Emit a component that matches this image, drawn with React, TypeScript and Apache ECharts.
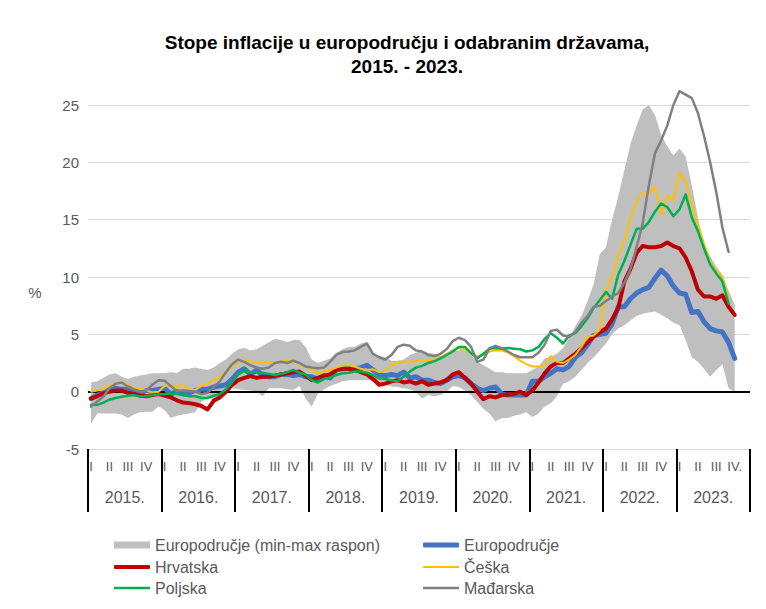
import React, { useEffect, useRef } from 'react';
import * as echarts from 'echarts';

const years = ['2015.', '2016.', '2017.', '2018.', '2019.', '2020.', '2021.', '2022.', '2023.'];
const quarterNames = ['I', 'II', 'III', 'IV'];
const lastQuarterLabel = 'IV.';
const yTicks = { min: -5, max: 25, step: 5 };

const bandMin = [
  -2.8, -1.9, -1.9, -1.9, -1.9, -2.0, -2.3, -2.0, -1.8, -1.75, -1.75, -1.3,
  -1.6, -2.3, -2.1, -2.0, -1.9, -1.8, -0.9, -0.5, -0.7, -0.7, -0.2, 0.3,
  0.2, 0.15, 0.1, 0.0, -0.4, 0.3, 0.3, 0.3, 0.2, 0.15, 0.5, -0.6,
  -1.3, -0.2, 0.2, 0.5, 0.7, 0.9, 1.0, 1.0, 1.0, 1.0, 1.0, 0.8,
  0.6, 0.45, 0.4, 0.3, 0.2, 0.0, -0.6, -0.3, -0.4, -0.3, 0.0, 0.5,
  0.4, 0.1, -0.3, -0.9, -1.5, -1.9, -2.6, -2.3, -2.3, -2.1, -2.0, -1.8,
  -2.2, -1.9, -1.3, -1.0, -0.4, 0.7, 0.9, 1.3, 1.9, 2.5, 3.0, 3.6,
  4.2, 5.0, 5.5, 5.8, 6.2, 6.6, 6.8, 6.9, 7.0, 6.7, 6.4, 6.0,
  5.8, 4.5, 3.0, 2.6, 2.0, 1.3, 1.9, 2.4, 0.3, 0.0,
];
const bandMax = [
  0.8, 0.9, 1.2, 1.5, 1.6, 1.3, 1.1, 1.3, 1.4, 1.5, 1.6, 1.6,
  1.6, 1.7, 1.6, 2.0, 2.0, 2.1, 2.0, 1.9, 2.1, 2.5, 2.8, 3.3,
  3.7, 3.8, 3.6, 3.7, 4.0, 4.3, 4.6, 4.5, 4.3, 4.5, 4.5, 3.9,
  2.8, 2.5, 2.7, 2.9, 3.4, 3.7, 3.9, 3.9, 4.2, 4.3, 3.4, 3.1,
  3.0, 2.7, 2.7, 2.8, 3.2, 3.4, 3.6, 3.4, 3.3, 3.1, 3.1, 3.5,
  3.6, 3.8, 3.2, 2.6, 2.3, 2.0, 1.7, 1.7, 1.6, 1.6, 1.6, 1.6,
  1.9, 2.2, 2.9, 3.05, 3.3, 3.8, 4.7, 5.7, 6.6, 7.9, 9.4, 12.0,
  12.6, 15.0, 17.0, 19.3, 21.6, 23.2, 24.6, 25.0, 24.1, 22.4, 21.4, 20.6,
  21.2, 20.5, 18.0, 15.2, 12.9, 11.8, 10.9, 10.2, 8.8, 7.6,
];
const euroArea = [
  -0.6, -0.3, -0.1, 0.2, 0.3, 0.2, 0.2, 0.1, -0.1, 0.1, 0.1, 0.2,
  0.3, -0.2, 0.0, -0.2, -0.1, 0.1, 0.2, 0.2, 0.4, 0.5, 0.6, 1.1,
  1.7, 2.0, 1.5, 1.9, 1.4, 1.3, 1.3, 1.5, 1.5, 1.4, 1.5, 1.3,
  1.3, 1.1, 1.4, 1.2, 1.9, 2.0, 2.1, 2.0, 2.1, 2.3, 1.9, 1.5,
  1.4, 1.5, 1.4, 1.7, 1.2, 1.3, 1.0, 1.0, 0.8, 0.7, 1.0, 1.3,
  1.4, 1.2, 0.7, 0.3, 0.1, 0.3, 0.4, -0.2, -0.3, -0.3, -0.3, -0.3,
  0.9, 0.9, 1.3, 1.6, 2.0, 1.9, 2.2, 3.0, 3.4, 4.1, 4.9, 5.0,
  5.1, 5.9, 7.4, 7.4, 8.1, 8.6, 8.9, 9.1, 9.9, 10.6, 10.1, 9.2,
  8.6, 8.5, 6.9, 7.0, 6.1, 5.5, 5.3, 5.2, 4.3, 2.9,
];
const croatia = [
  -0.6, -0.4, -0.15, 0.0, 0.1, 0.1, -0.1, -0.2, -0.35, -0.4, -0.3, -0.2,
  -0.35, -0.5, -0.75, -0.95, -1.0, -1.1, -1.25, -1.55, -0.8, -0.5, 0.0, 0.6,
  1.0, 1.2, 1.35, 1.2, 1.3, 1.3, 1.4, 1.5, 1.6, 1.7, 1.75, 1.4,
  1.0, 1.2, 1.4, 1.5, 1.9, 2.0, 2.0, 1.9, 1.7, 1.5, 1.1, 0.6,
  0.7, 0.9, 1.0, 0.8, 0.9, 0.7, 0.9, 0.6, 0.7, 0.8, 1.0, 1.5,
  1.7, 1.2, 0.7, 0.0, -0.65, -0.4, -0.5, -0.3, -0.25, -0.2, 0.0, -0.3,
  0.1, 0.8, 1.6, 2.2, 2.5, 2.5, 2.9, 3.3, 3.8, 4.3, 4.8, 5.2,
  5.5, 6.3, 7.3, 9.6, 10.7, 12.1, 12.7, 12.6, 12.6, 12.7, 13.0, 12.7,
  12.5, 11.7, 10.5, 8.9, 8.3, 8.3, 8.1, 8.4, 7.4, 6.7,
];
const czechia = [
  0.0, 0.1, 0.2, 0.5, 0.7, 0.85, 0.6, 0.35, 0.3, 0.1, -0.05, 0.0,
  0.5, 0.6, 0.35, 0.6, 0.2, 0.15, 0.5, 0.7, 1.0, 1.3, 1.7, 2.2,
  2.6, 2.8, 2.7, 2.5, 2.5, 2.5, 2.5, 2.6, 2.7, 2.6, 2.4, 2.2,
  1.9, 1.65, 1.75, 1.85, 2.1, 2.25, 2.3, 2.2, 2.0, 1.9, 1.95, 1.7,
  1.8, 2.3, 2.5, 2.6, 2.6, 2.65, 2.7, 2.65, 2.8, 3.0, 3.3, 3.6,
  3.8, 3.6, 3.4, 3.1, 3.2, 3.5, 3.6, 3.6, 3.4, 3.1, 2.7, 2.4,
  2.2, 2.2, 2.3, 3.1, 2.6, 2.5, 2.8, 3.2, 3.9, 4.8, 4.9, 5.4,
  8.8, 10.0, 11.9, 13.2, 15.2, 16.6, 17.3, 17.3, 17.9, 15.4, 17.1, 16.7,
  19.1, 18.3, 16.3, 14.5, 12.9, 11.3, 10.5, 10.0, 8.1,
];
const poland = [
  -1.15, -1.15, -0.95, -0.7, -0.55, -0.45, -0.35, -0.3, -0.4, -0.4, -0.3, -0.25,
  -0.2, -0.15, -0.2, -0.3, -0.4, -0.4, -0.55, -0.55, -0.35, -0.2, 0.2, 0.8,
  1.5, 1.8, 1.7, 1.7, 1.65, 1.55, 1.45, 1.55, 1.7, 1.9, 1.65, 1.5,
  1.0, 0.8, 1.1, 1.25, 1.45, 1.6, 1.65, 1.75, 1.75, 1.65, 1.45, 1.15,
  1.1, 1.0, 0.9, 1.3, 1.75, 2.1, 2.25, 2.5, 2.65, 2.9, 3.2, 3.5,
  3.9, 3.9, 3.35, 2.9, 3.3, 3.75, 3.8, 3.75, 3.8, 3.75, 3.7, 3.5,
  3.6, 3.9, 4.6, 5.1, 4.7, 4.2, 4.9, 5.1, 5.7, 6.4, 7.3, 8.0,
  8.7, 8.1, 10.2, 11.4, 12.8, 14.2, 14.2, 14.8, 15.7, 16.4, 16.1, 15.3,
  15.9, 17.2, 15.2, 14.0, 12.5, 11.1, 10.3, 9.6, 7.7,
];
const hungary = [
  -1.3, -0.85, -0.45, 0.3, 0.7, 0.8, 0.45, 0.2, 0.0, 0.1, 0.6, 1.0,
  0.95, 0.5, 0.05, 0.1, 0.05, 0.0, -0.2, -0.1, 0.4, 0.9, 1.7, 2.4,
  2.8, 2.6, 2.3, 2.1, 2.0, 2.1, 2.5, 2.6, 2.5, 2.7, 2.5, 2.2,
  2.1, 2.05, 2.1, 2.6, 3.2, 3.45, 3.5, 3.6, 3.9, 4.2, 3.3, 3.0,
  2.8, 3.2, 3.9, 4.1, 4.0, 3.6, 3.5, 3.2, 3.1, 3.3, 3.7, 4.4,
  4.7, 4.5, 3.9, 2.6, 2.8, 3.8, 4.0, 3.8, 3.5, 3.2, 3.0, 3.0,
  3.0, 3.4, 4.1, 5.3, 5.4, 4.9, 4.8, 5.2, 6.0, 6.6, 7.4, 7.5,
  7.9, 8.3, 8.6, 9.5, 10.7, 12.6, 14.7, 18.0, 20.8, 21.9, 23.2, 25.0,
  26.2, 25.9, 25.6, 24.3, 22.3, 20.0, 17.4, 14.3, 12.2,
];

const FONT = '"Liberation Sans", Arial, sans-serif';
const TEXT = '#595959';

const monthKeys: string[] = [];
const monthLabels: string[] = [];
years.forEach((y, yi) => {
  for (let m = 0; m < 12; m++) {
    monthKeys.push(y + m);
    let lab = m % 3 === 0 ? quarterNames[m / 3] : '';
    if (yi === years.length - 1 && m === 9) lab = lastQuarterLabel;
    monthLabels.push(lab);
  }
});

const BAND = 'Europodručje (min-max raspon)';
const lineSeries = [
  { name: 'Europodručje', data: euroArea, color: '#4472C4', width: 5, z: 6 },
  { name: 'Hrvatska', data: croatia, color: '#C00000', width: 4, z: 7 },
  { name: 'Češka', data: czechia, color: '#FFC000', width: 2, z: 8 },
  { name: 'Poljska', data: poland, color: '#00B050', width: 2.5, z: 9 },
  { name: 'Mađarska', data: hungary, color: '#808080', width: 2.5, z: 10 },
];

const legendLayout = [
  { name: BAND, left: 114, top: 535, color: '#BFBFBF', h: 7, icon: 'rect' },
  { name: 'Europodručje', left: 423, top: 535, color: '#4472C4', h: 5, icon: 'roundRect' },
  { name: 'Hrvatska', left: 114, top: 557, color: '#C00000', h: 4, icon: 'roundRect' },
  { name: 'Češka', left: 423, top: 557, color: '#FFC000', h: 2, icon: 'rect' },
  { name: 'Poljska', left: 114, top: 578, color: '#00B050', h: 2.5, icon: 'rect' },
  { name: 'Mađarska', left: 423, top: 578, color: '#808080', h: 2.5, icon: 'rect' },
];

export default function App() {
  const ref = useRef<HTMLDivElement>(null);
  useEffect(() => {
    document.body.style.margin = '0';
    if (!ref.current) return;
    const chart = echarts.init(ref.current, null, { renderer: 'svg' });
    const option: any = {
      animation: false,
      backgroundColor: '#fff',
      grid: { left: 88, right: 16, top: 105, bottom: 160 },
      graphic: [
        {
          type: 'text', x: 407, y: 42,
          style: { text: 'Stope inflacije u europodručju i odabranim državama,', fill: '#000', font: 'bold 19px ' + FONT, textAlign: 'center', textVerticalAlign: 'middle' },
        },
        {
          type: 'text', x: 407, y: 66,
          style: { text: '2015. - 2023.', fill: '#000', font: 'bold 19px ' + FONT, textAlign: 'center', textVerticalAlign: 'middle' },
        },
        {
          type: 'text', x: 35, y: 292,
          style: { text: '%', fill: TEXT, font: '15px ' + FONT, textAlign: 'center', textVerticalAlign: 'middle' },
        },
      ],
      legend: legendLayout.map((l) => ({
        left: l.left, top: l.top, padding: 0, itemWidth: 36, itemHeight: l.h,
        selectedMode: false,
        textStyle: { fontSize: 16, color: TEXT, fontFamily: FONT, lineHeight: 20 },
        data: [{ name: l.name, icon: l.icon, itemStyle: { color: l.color, borderWidth: 0 } }],
      })),
      xAxis: [
        {
          type: 'category', data: monthKeys, boundaryGap: true, position: 'bottom',
          axisLine: { show: true, lineStyle: { color: '#BFBFBF', width: 1 } },
          axisTick: { show: false },
          axisLabel: {
            interval: 0, margin: 11, color: TEXT, fontSize: 13, fontFamily: FONT,
            formatter: (_v: string, i: number) => monthLabels[i],
          },
          splitLine: { show: false },
        },
        {
          type: 'category', data: years, boundaryGap: true, position: 'bottom', offset: 0,
          axisLine: { show: false },
          axisTick: { show: true, interval: 0, length: 63, lineStyle: { color: '#000', width: 2 } },
          axisLabel: { interval: 0, margin: 40, color: TEXT, fontSize: 16, fontFamily: FONT },
          splitLine: { show: false },
        },
      ],
      yAxis: {
        type: 'value', min: yTicks.min, max: yTicks.max, interval: yTicks.step,
        axisLine: { show: false }, axisTick: { show: false },
        axisLabel: { color: TEXT, fontSize: 15, fontFamily: FONT, margin: 9 },
        splitLine: { lineStyle: { color: '#D9D9D9', width: 1 } },
      },
      series: [
        {
          name: 'bandBase', type: 'line', stack: 'band', stackStrategy: 'all', data: bandMin,
          symbol: 'none', lineStyle: { width: 0, opacity: 0 }, z: 2, silent: true,
        },
        {
          name: BAND, type: 'line', stack: 'band', stackStrategy: 'all',
          data: bandMax.map((v, i) => +(v - bandMin[i]).toFixed(2)),
          symbol: 'none', lineStyle: { width: 0, opacity: 0 }, itemStyle: { color: '#BFBFBF' },
          areaStyle: { color: '#BFBFBF', opacity: 1 }, z: 2, silent: true,
          markLine: {
            silent: true, symbol: ['none', 'none'], label: { show: false },
            lineStyle: { color: '#000', width: 2, type: 'solid' },
            emphasis: { disabled: true },
            data: [{ yAxis: 0 }],
          },
        },
        ...lineSeries.map((s) => ({
          name: s.name, type: 'line', data: s.data, symbol: 'none', z: s.z, clip: false,
          itemStyle: { color: s.color },
          lineStyle: { color: s.color, width: s.width, cap: 'round', join: 'round' },
          silent: true,
        })),
      ],
    };
    chart.setOption(option);
    return () => chart.dispose();
  }, []);
  return <div ref={ref} style={{ width: 766, height: 609 }} />;
}
